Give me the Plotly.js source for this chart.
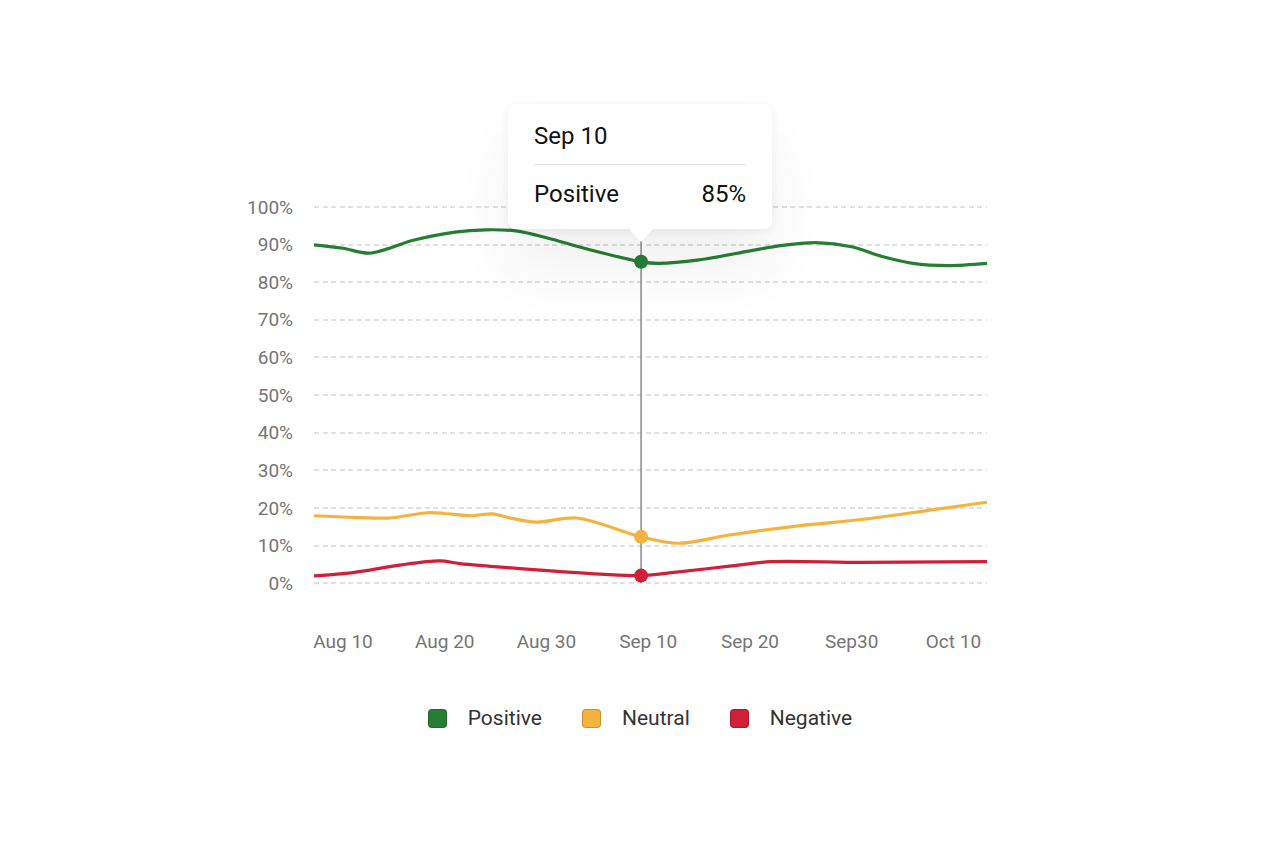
<!DOCTYPE html>
<html>
<head>
<meta charset="utf-8">
<script src="https://cdn.plot.ly/plotly-3.0.1.min.js"></script>
<style>
  html, body { margin: 0; padding: 0; background: #fff; }
  #wrap { position: relative; width: 1280px; height: 852px; overflow: hidden; font-family: Roboto, "Noto Sans", sans-serif; }
  #chart { position: absolute; left: 0; top: 0; width: 1280px; height: 852px; }
  #tip { position: absolute; width: 264px; height: 125px; background: #fff; border-radius: 8px;
         box-shadow: 0 2px 8px rgba(0,0,0,0.06), 0 40px 60px rgba(0,0,0,0.06); }
  #tip .arrow { position: absolute; left: 121px; top: 125px; width: 0; height: 0;
         border-left: 12.5px solid transparent; border-right: 12.5px solid transparent; border-top: 13px solid #fff; }
  #tip .ttl { position: absolute; left: 26px; top: 20px; font-size: 24px; line-height: 24px; color: #111; }
  #tip .sep { position: absolute; left: 26px; right: 26px; top: 60px; height: 1.5px; background: #e3e3e3; }
  #tip .row { position: absolute; left: 26px; right: 26px; top: 78px; font-size: 24px; line-height: 24px; color: #111; }
  #tip .row .v { position: absolute; right: 0; top: 0; }
  #legend { position: absolute; left: 0; width: 1280px; top: 706px; display: flex; justify-content: center; font-size: 21px; color: #333; }
  #legend .it { display: flex; align-items: center; margin: 0 20px; }
  #legend .sw { width: 19px; height: 19px; border-radius: 4px; box-sizing: border-box; border: 1px solid rgba(0,0,0,0.18); margin-right: 21px; }
</style>
</head>
<body>
<div id="wrap">
  <div id="chart"></div>
  <div id="legend"></div>
</div>
<script>
// ---- data ----
const tickVals = [0, 10, 20, 30, 40, 50, 60];
const tickLabels = ['Aug 10', 'Aug 20', 'Aug 30', 'Sep 10', 'Sep 20', 'Sep30', 'Oct 10'];
const yTickVals = [0, 10, 20, 30, 40, 50, 60, 70, 80, 90, 100];
const yTickLabels = ['0%', '10%', '20%', '30%', '40%', '50%', '60%', '70%', '80%', '90%', '100%'];

const seriesNames = ['Positive', 'Neutral', 'Negative'];
const seriesColors = ['#267E35', '#F6B23E', '#D21F38'];

const positiveX = [-2.85, 0, 2.6, 7, 11, 14, 17, 20, 24, 29.3, 31, 35, 40, 43, 46.5, 50, 53, 56, 59.5, 63.3];
const positiveY = [89.9, 89.0, 87.7, 91.2, 93.3, 93.9, 93.6, 91.8, 88.8, 85.4, 85.0, 85.9, 88.3, 89.7, 90.5, 89.4, 86.8, 85.0, 84.4, 85.0];

const neutralX = [-2.85, 1, 4.5, 8.3, 10, 12.5, 14.7, 16.3, 19, 23, 29.3, 33, 38, 45, 51, 57.7, 63.3];
const neutralY = [17.9, 17.5, 17.3, 18.7, 18.5, 17.9, 18.4, 17.4, 16.2, 17.3, 12.3, 10.6, 12.8, 15.3, 16.9, 19.4, 21.5];

const negativeX = [-2.85, 1, 5.6, 9.5, 11.5, 18.7, 25.3, 29.3, 33, 38, 42, 51, 63.3];
const negativeY = [1.9, 2.8, 4.8, 5.9, 5.2, 3.6, 2.4, 2.0, 3.0, 4.5, 5.7, 5.5, 5.7];

const tooltipX = 29.3;
const tooltipDate = 'Sep 10';
const tooltipSeries = 0; // Positive

// ---- build ----
const xs = [positiveX, neutralX, negativeX];
const ys = [positiveY, neutralY, negativeY];
const traces = [];
for (let i = 0; i < 3; i++) {
  traces.push({
    x: xs[i], y: ys[i], name: seriesNames[i], type: 'scatter', mode: 'lines',
    line: { color: seriesColors[i], width: 3.2, shape: 'spline', smoothing: 0.9 },
    hoverinfo: 'skip', showlegend: false
  });
}
const tipVals = [];
for (let i = 0; i < 3; i++) {
  const k = xs[i].indexOf(tooltipX);
  tipVals.push(ys[i][k]);
  traces.push({
    x: [tooltipX], y: [ys[i][k]], type: 'scatter', mode: 'markers',
    marker: { color: seriesColors[i], size: 14 }, hoverinfo: 'skip', showlegend: false, cliponaxis: false
  });
}

const layout = {
  width: 1280, height: 852,
  margin: { l: 314, r: 293, t: 205, b: 267 },
  paper_bgcolor: '#fff', plot_bgcolor: '#fff',
  font: { family: 'Roboto, "Noto Sans", sans-serif', color: '#757575', size: 19 },
  showlegend: false,
  xaxis: {
    range: [-2.85, 63.3], tickvals: tickVals, ticktext: tickLabels,
    showgrid: false, zeroline: false, showline: false, ticks: '',
    ticklabelstandoff: 43, tickfont: { size: 19, color: '#757575' }, fixedrange: true
  },
  yaxis: {
    range: [-0.5, 100.5], tickvals: yTickVals, ticktext: yTickLabels,
    showgrid: true, gridcolor: '#e0e0e0', gridwidth: 2, griddash: '5px,3.5px',
    zeroline: false, showline: false, ticks: '',
    ticklabelstandoff: 20, tickfont: { size: 19, color: '#757575' }, fixedrange: true
  },
  shapes: [{
    type: 'line', xref: 'x', yref: 'y', x0: tooltipX, x1: tooltipX, y0: 0, y1: 100,
    line: { color: '#8a8a8a', width: 1.5 }, layer: 'between'
  }]
};

const gd = document.getElementById('chart');
Plotly.newPlot(gd, traces, layout, { displayModeBar: false, staticPlot: true }).then(() => {
  const fl = gd._fullLayout;
  const px = fl.xaxis.l2p(tooltipX) + fl._size.l;
  const py = fl.yaxis.l2p(tipVals[tooltipSeries]) + fl._size.t;
  const tipEl = document.createElement('div');
  tipEl.id = 'tip';
  tipEl.innerHTML = '<div class="ttl"></div><div class="sep"></div><div class="row"><span class="n"></span><span class="v"></span></div><div class="arrow"></div>';
  tipEl.querySelector('.ttl').textContent = tooltipDate;
  tipEl.querySelector('.n').textContent = seriesNames[tooltipSeries];
  tipEl.querySelector('.v').textContent = Math.round(tipVals[tooltipSeries]) + '%';
  const tipBottom = py - 20 - 13;
  tipEl.style.left = (px - 133) + 'px';
  tipEl.style.top = (tipBottom - 125) + 'px';
  document.getElementById('wrap').appendChild(tipEl);
});

const leg = document.getElementById('legend');
seriesNames.forEach((n, i) => {
  const it = document.createElement('div'); it.className = 'it';
  const sw = document.createElement('div'); sw.className = 'sw'; sw.style.background = seriesColors[i];
  const tx = document.createElement('span'); tx.textContent = n;
  it.appendChild(sw); it.appendChild(tx); leg.appendChild(it);
});
</script>
</body>
</html>
